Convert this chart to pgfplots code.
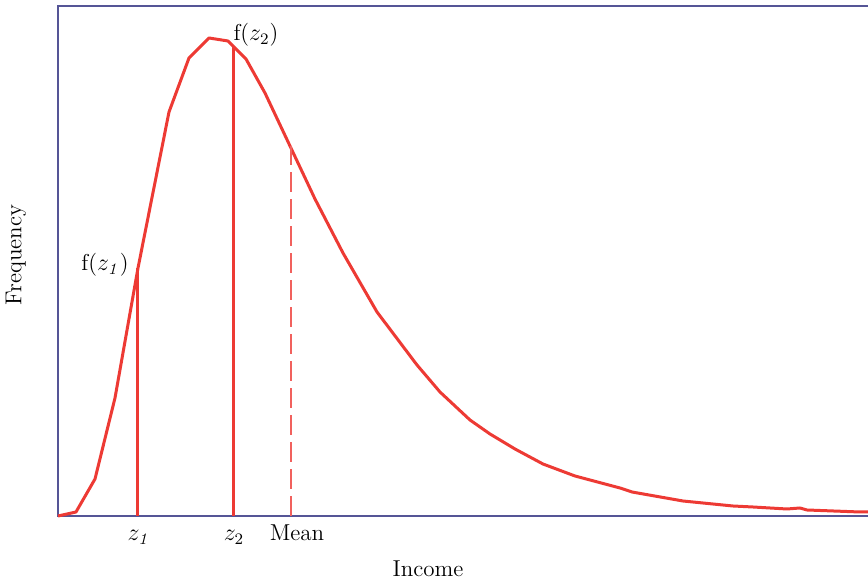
\documentclass[border=0pt]{standalone}
\usepackage{pgfplots}
\pgfplotsset{compat=1.18}
\definecolor{curvered}{RGB}{237,58,52}
\definecolor{axisblue}{RGB}{85,85,150}
\begin{document}
\begin{tikzpicture}
\useasboundingbox (-29pt,-33pt) rectangle (405pt,258pt);
\begin{axis}[
  at={(0pt,0pt)}, anchor=south west,
  scale only axis, width=405pt, height=255pt,
  xmin=0, xmax=810, ymin=0, ymax=510,
  axis lines=none,
  ticks=none,
  clip=false,
  font=\fontsize{11.5}{13}\selectfont,
]
\draw[axisblue, line width=0.9pt] (axis cs:810,0) -- (axis cs:0,0) -- (axis cs:0,510) -- (axis cs:810,510);
\addplot[curvered, line width=1.5pt, line join=round] coordinates {
(0,0) (18,4) (37,37) (57,118) (80,248) (111,404) (131,458) (151,478) (170,475)
(188,457) (207,423) (232,370) (257,317) (285,263) (319,204) (359,151) (382,124)
(412,96) (432,82) (457,67) (485,52) (517,40) (562,28) (574,24) (625,15) (675,10)
(695,9) (729,7) (742,8) (749,6) (802,4) (810,4)
};
\addplot[curvered, line width=1.5pt] coordinates {(80,0) (80,248)};
\addplot[curvered, line width=1.5pt] coordinates {(175,0) (175,470)};
\addplot[curvered!80, line width=0.6pt, dash pattern=on 10pt off 3.5pt] coordinates {(233,0) (233,370)};
\node[anchor=base] at ([yshift=-12.5pt]axis cs:81,0) {$z_{\mathit{1}}$};
\node[anchor=base] at ([yshift=-12.5pt]axis cs:176,0) {$z_{2}$};
\node[anchor=base] at ([yshift=-12.5pt]axis cs:239,0) {Mean};
\node[anchor=base] at ([yshift=-30.5pt]axis cs:370,0) {Income};
\node[rotate=90] at ([xshift=-21pt]axis cs:0,261) {Frequency};
\node at (axis cs:47,251) {f($z_{\mathit{1}}$)};
\node at (axis cs:198,481) {f($z_{2}$)};
\end{axis}
\end{tikzpicture}
\end{document}
